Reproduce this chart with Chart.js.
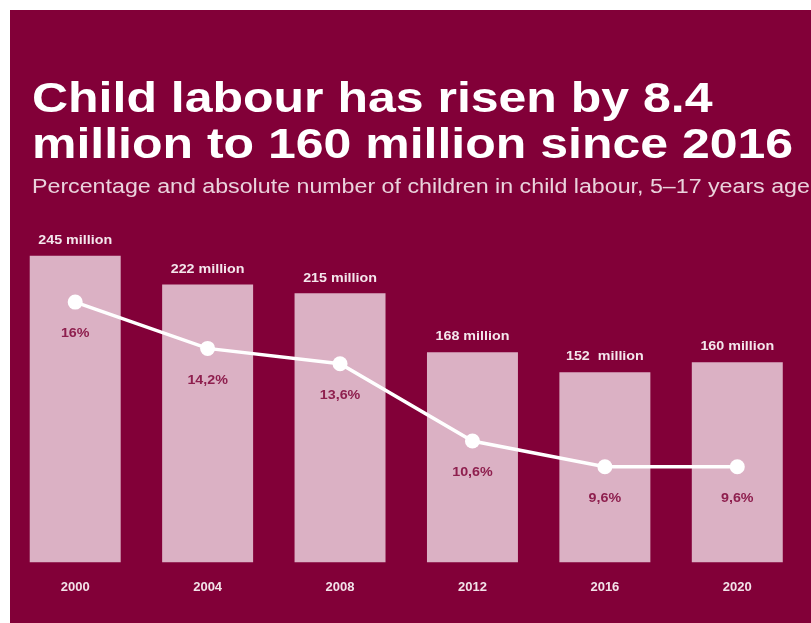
<!DOCTYPE html>
<html>
<head>
<meta charset="utf-8">
<script src="https://cdn.jsdelivr.net/npm/chart.js@4/dist/chart.umd.min.js"></script>
<style>
  html, body { margin: 0; padding: 0; background: #ffffff; }
  #wrap { position: relative; width: 811px; height: 623px; }
  canvas { display: block; }
</style>
</head>
<body>
<div id="wrap"><canvas id="c" width="811" height="623"></canvas></div>
<script>
// Child labour, 5–17 year olds
const years = ['2000', '2004', '2008', '2012', '2016', '2020'];
const childrenMillions = [245, 222, 215, 168, 152, 160];
const sharePercent = [16, 14.2, 13.6, 10.6, 9.6, 9.6];
const millionLabels = ['245 million', '222 million', '215 million', '168 million', '152  million', '160 million'];

const titleLines = ['Child labour has risen by 8.4', 'million to 160 million since 2016'];
const subtitleText = 'Percentage and absolute number of children in child labour, 5\u201317 years age';

const MAROON = '#820038';
const BAR_PINK = '#DBB1C4';
const FONT = '"Liberation Sans", Arial, Helvetica, sans-serif';
const STRETCH = 1.19; // the typeface is set slightly wide

function wideText(ctx, text, x, y, align, baseline) {
  ctx.save();
  ctx.translate(x, y);
  ctx.scale(STRETCH, 1);
  ctx.textAlign = align;
  ctx.textBaseline = baseline;
  ctx.fillText(text, 0, 0);
  ctx.restore();
}

const pctLabel = v => String(v).replace('.', ',') + '%';

const panelPlugin = {
  id: 'panel',
  beforeDraw(chart) {
    const ctx = chart.ctx;
    ctx.save();
    ctx.fillStyle = '#ffffff';
    ctx.fillRect(0, 0, chart.width, chart.height);
    ctx.fillStyle = MAROON;
    ctx.fillRect(10, 10, chart.width - 10, chart.height - 10);

    ctx.fillStyle = '#ffffff';
    ctx.font = 'bold 42px ' + FONT;
    wideText(ctx, titleLines[0], 32, 112, 'left', 'alphabetic');
    wideText(ctx, titleLines[1], 32, 158, 'left', 'alphabetic');

    ctx.fillStyle = '#EAD2DC';
    ctx.font = '19.5px ' + FONT;
    wideText(ctx, subtitleText, 32, 193, 'left', 'alphabetic');
    ctx.restore();
  }
};

const valueLabelPlugin = {
  id: 'valueLabels',
  afterDatasetsDraw(chart) {
    const ctx = chart.ctx;
    ctx.save();
    const bars = chart.getDatasetMeta(1).data;
    ctx.fillStyle = '#F4E6EC';
    ctx.font = 'bold 12px ' + FONT;
    bars.forEach((el, i) => {
      wideText(ctx, millionLabels[i], el.x, el.y - 15, 'center', 'middle');
    });
    const pts = chart.getDatasetMeta(0).data;
    ctx.fillStyle = '#8E1F4E';
    pts.forEach((el, i) => {
      wideText(ctx, pctLabel(sharePercent[i]), el.x, el.y + 32, 'center', 'middle');
    });
    ctx.restore();
  }
};

new Chart(document.getElementById('c'), {
  data: {
    labels: years,
    datasets: [
      {
        type: 'line',
        label: 'Share of children in child labour (%)',
        data: sharePercent,
        yAxisID: 'yPct',
        order: 0,
        borderColor: '#ffffff',
        borderWidth: 3.5,
        tension: 0,
        pointRadius: 7.5,
        pointBackgroundColor: '#ffffff',
        pointBorderWidth: 0,
        fill: false
      },
      {
        type: 'bar',
        label: 'Children in child labour (millions)',
        data: childrenMillions,
        yAxisID: 'yAbs',
        order: 1,
        backgroundColor: BAR_PINK,
        borderWidth: 0,
        barPercentage: 0.687,
        categoryPercentage: 1
      }
    ]
  },
  options: {
    responsive: false,
    devicePixelRatio: 1,
    animation: false,
    layout: { padding: { left: 9, right: 7, top: 237, bottom: 11 } },
    plugins: {
      legend: { display: false },
      tooltip: { enabled: false }
    },
    scales: {
      x: {
        type: 'category',
        offset: true,
        grid: { display: false, drawTicks: false },
        border: { display: false },
        ticks: {
          color: '#F2E2E9',
          padding: 17,
          font: { family: FONT, size: 13, weight: 'bold' }
        }
      },
      yAbs: { type: 'linear', position: 'left', min: 0, max: 260, display: false },
      yPct: { type: 'linear', position: 'right', min: 5.88, max: 18.53, display: false }
    }
  },
  plugins: [panelPlugin, valueLabelPlugin]
});
</script>
</body>
</html>
